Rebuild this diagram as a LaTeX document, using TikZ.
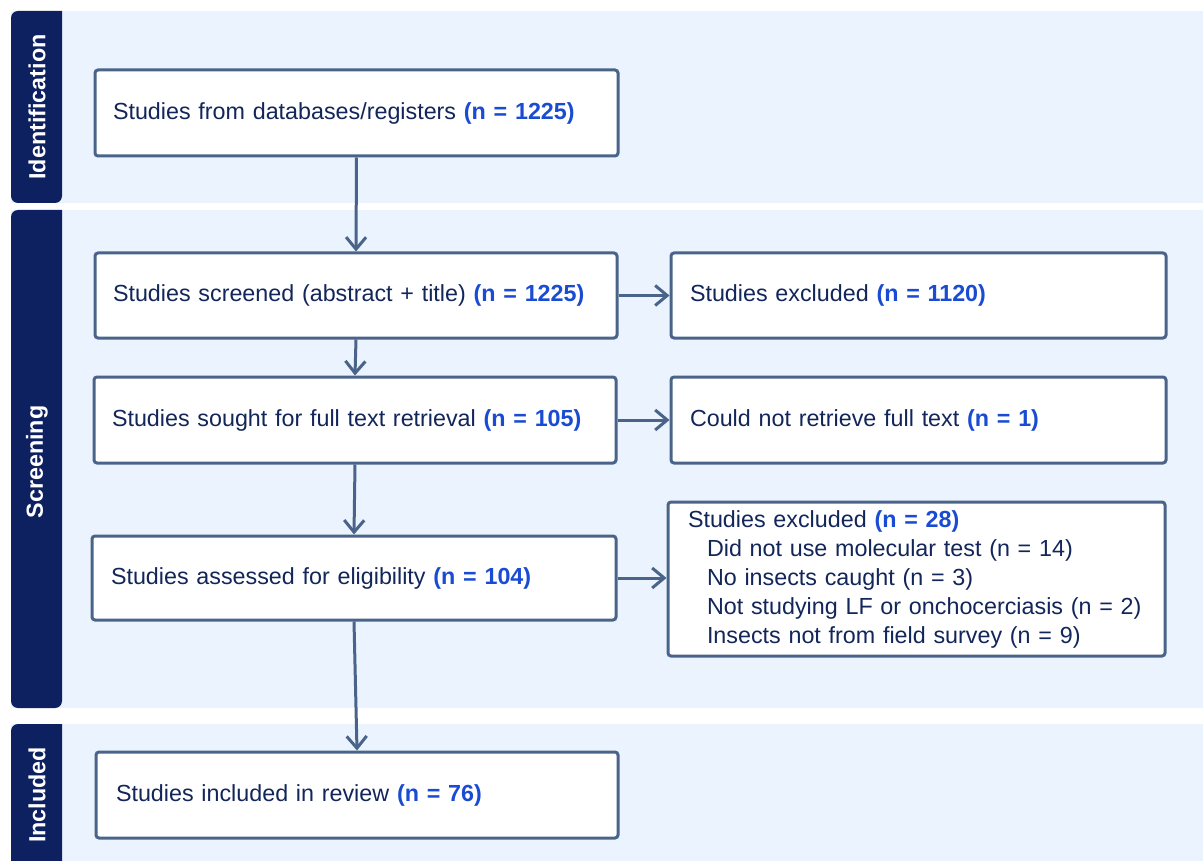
\documentclass[tikz,border=0pt]{standalone}
\usepackage{fontspec}
\setmainfont{Liberation Sans}
\usetikzlibrary{arrows.meta,positioning}
\definecolor{bandfill}{HTML}{EBF3FE}
\definecolor{tabfill}{HTML}{0D2060}
\definecolor{linec}{HTML}{4A6489}
\definecolor{textc}{HTML}{13265A}
\definecolor{numc}{HTML}{1A4BD3}
\newcommand{\num}[1]{\textcolor{numc}{\bfseries #1}}
\tikzset{
  band/.style={fill=bandfill, draw=none},
  tab/.style={fill=tabfill, draw=none},
  tablabel/.style={text=white, font=\fontsize{23.3}{28}\selectfont\bfseries, rotate=90, anchor=center},
  box/.style={draw=linec, line width=3pt, rounded corners=3pt, fill=white, text=textc,
    font=\fontsize{23.3}{29}\selectfont, align=left, inner xsep=18pt, inner ysep=0pt,
    anchor=center},
  arr/.style={draw=linec, line width=3pt, -{Straight Barb[length=12pt,width=20pt,line width=3pt]}},
}
\begin{document}
\begin{tikzpicture}[x=1pt,y=-1pt]
\useasboundingbox (0,0) rectangle (1203,861);
% bands
\fill[band] (11,11) rectangle (1203,203);
\fill[band] (11,210) rectangle (1203,708);
\fill[band] (11,724) rectangle (1203,861);
% tabs
\fill[tab, rounded corners=7pt] (62,11) -- (11,11) -- (11,203) -- (62,203) [sharp corners] -- cycle;
\fill[tab, rounded corners=7pt] (62,210) -- (11,210) -- (11,708) -- (62,708) [sharp corners] -- cycle;
\fill[tab, rounded corners=7pt] (62,724) -- (11,724) -- (11,870) [sharp corners] -- (62,870) -- cycle;
\node[tablabel] (tid) at (37,107) {Identification};
\node[tablabel] (tsc) at (37,462) {Screening};
\node[tablabel] (tin) at (37,795) {Included};
% boxes
\node[box, minimum width=523pt, minimum height=86pt, text width=487pt] (b1) at (356.5,113)
  {Studies from databases/registers \num{(n = 1225)}};
\node[box, minimum width=522pt, minimum height=85pt, text width=486pt] (b2) at (356,295.5)
  {Studies screened (abstract + title) \num{(n = 1225)}};
\node[box, minimum width=495pt, minimum height=85pt, text width=457pt, inner xsep=19pt] (e1) at (918.5,295.5)
  {Studies excluded \num{(n = 1120)}};
\node[box, minimum width=522pt, minimum height=86pt, text width=486pt] (b3) at (355,420)
  {Studies sought for full text retrieval \num{(n = 105)}};
\node[box, minimum width=495pt, minimum height=86pt, text width=457pt, inner xsep=19pt] (e2) at (918.5,420)
  {Could not retrieve full text \num{(n = 1)}};
\node[box, minimum width=522pt, minimum height=84pt, text width=486pt, inner xsep=19pt] (b4) at (354,578)
  {Studies assessed for eligibility \num{(n = 104)}};
\node[box, minimum width=497pt, minimum height=154pt, text width=457pt, inner xsep=20pt] (e3) at (916.5,579)
  {Studies excluded \num{(n = 28)}\\
   \hspace*{19pt}Did not use molecular test (n = 14)\\
   \hspace*{19pt}No insects caught (n = 3)\\
   \hspace*{19pt}Not studying LF or onchocerciasis (n = 2)\\
   \hspace*{19pt}Insects not from field survey (n = 9)};
\node[box, minimum width=522pt, minimum height=86pt, text width=482pt, inner xsep=20pt] (b5) at (357,795)
  {Studies included in review \num{(n = 76)}};
% connectors
\draw[arr] (b1.south) -- (b2.north);
\draw[arr] (b2.south) -- (b3.north);
\draw[arr] (b3.south) -- (b4.north);
\draw[arr] (b4.south) -- (b5.north);
\draw[arr] (b2.east) -- (e1.west);
\draw[arr] (b3.east) -- (e2.west);
\draw[arr] (b4.east) -- (b4.east -| e3.west);
\end{tikzpicture}
\end{document}
